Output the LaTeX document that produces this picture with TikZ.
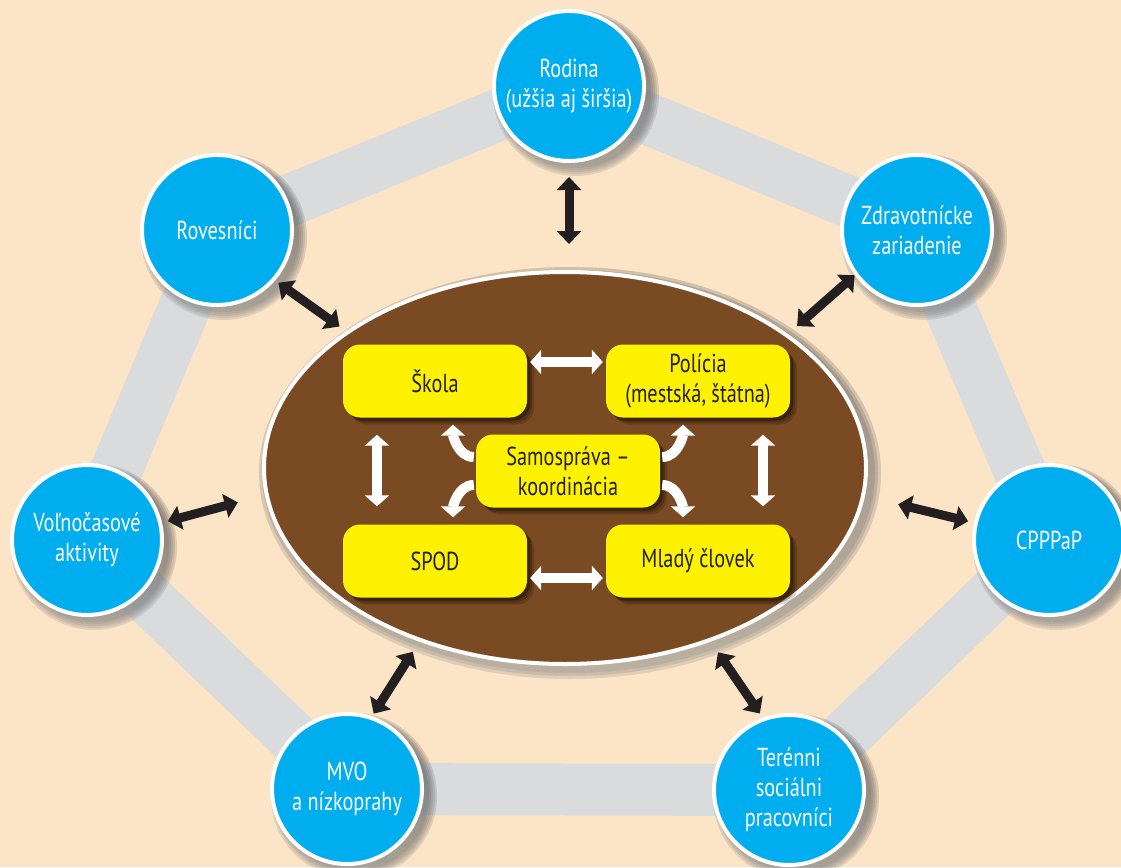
\documentclass[tikz,border=0pt]{standalone}
\usepackage{fontspec}
\setmainfont{PT Sans}[FakeStretch=0.78]
\usetikzlibrary{shapes.geometric,arrows.meta}

\definecolor{paper}{RGB}{252,228,198}
\definecolor{band}{RGB}{218,219,221}
\definecolor{sky}{RGB}{0,174,239}
\definecolor{bark}{RGB}{122,74,34}
\definecolor{lemon}{RGB}{255,242,0}
\definecolor{ink}{RGB}{35,31,32}
\definecolor{shade}{RGB}{60,35,15}

\begin{document}
\begin{tikzpicture}[x=1pt, y=-1pt,
    main/.style = {circle, draw=white, line width=4pt, fill=sky, minimum size=150pt, inner sep=0pt,
      align=center, text=white, font=\fontsize{26}{30}\selectfont},
    box/.style = {rounded corners=17pt, fill=lemon, minimum width=184pt, minimum height=73pt, inner sep=0pt,
      align=center, text=ink, font=\fontsize{26}{30}\selectfont,
      preaction={fill=black, opacity=.15, transform canvas={shift={(7pt,-7pt)}}},
      preaction={fill=black, opacity=.2, transform canvas={shift={(5pt,-5pt)}}},
      preaction={fill=black, opacity=.3, transform canvas={shift={(3pt,-3pt)}}}},
    link/.style = {draw=ink, line width=9pt, {Triangle[width=24pt,length=13pt]}-{Triangle[width=24pt,length=13pt]}},
    wlink/.style = {draw=white, line width=10pt, {Triangle[width=24pt,length=11pt]}-{Triangle[width=24pt,length=11pt]}},
    wturn/.style = {draw=white, line width=10pt, -{Triangle[width=24pt,length=11pt]}}]
  \useasboundingbox (0,0) rectangle (1121,867);
  \fill[paper] (0,0) rectangle (1121,867);

  % where the partners sit
  \foreach \n/\x/\y in {rodina/569/86, zdrav/917/230, cpp/1049/540, ter/789/790,
      mvo/347/789, voln/87/540, rov/217/230}
    \coordinate (p-\n) at (\x,\y);

  \draw[band, line width=52pt, line join=round] (p-rodina) -- (p-zdrav) -- (p-cpp) -- (p-ter)
    -- (p-mvo) -- (p-voln) -- (p-rov) -- cycle;

  % soft shadows
  \foreach \n in {rodina,zdrav,cpp,ter,mvo,voln,rov}
    \foreach \r in {83,81,79,77,75}
      \fill[shade, opacity=.1] ([xshift=7pt,yshift=-7pt]p-\n) circle[radius=\r pt];
  \foreach \e in {8,5,2}
    \fill[shade, opacity=.12] ([xshift=5pt,yshift=-5pt]565,468) ellipse[x radius=303pt+\e pt, y radius=198pt+\e pt];

  % centre
  \node[ellipse, draw=white, line width=4pt, fill=bark, minimum width=602pt, minimum height=392pt,
    inner sep=0pt] (ell) at (565,468) {};

  % partners
  \node[main] (rodina) at (p-rodina) {Rodina\\(užšia aj širšia)};
  \node[main] (zdrav) at (p-zdrav) {Zdravotnícke\\zariadenie};
  \node[main] (cpp) at (p-cpp) {CPPPaP};
  \node[main] (ter) at (p-ter) {Terénni\\sociálni\\pracovníci};
  \node[main] (mvo) at (p-mvo) {MVO\\a nízkoprahy};
  \node[main] (voln) at (p-voln) {Voľnočasové\\aktivity};
  \node[main] (rov) at (p-rov) {Rovesníci};

  % inner boxes
  \node[box] (skola) at (435,381) {Škola};
  \node[box] (policia) at (698,381) {Polícia\\(mestská, štátna)};
  \node[box] (samo) at (568,471) {Samospráva –\\koordinácia};
  \node[box] (spod) at (435,561) {SPOD};
  \node[box] (mlady) at (698,561) {Mladý človek};

  \path
    (rodina.south) edge[link, shorten <=14pt, shorten >=26pt] (rodina.south |- ell.north)
    (rov.-41) edge[link, shorten <=4pt, shorten >=8pt] (ell.148.4)
    (zdrav.216.6) edge[link, shorten >=12pt] (ell.31.2)
    (voln.13.9) edge[link, shorten <=6pt, shorten >=25pt] ([yshift=-28pt]ell.west)
    (cpp.167.5) edge[link, shorten <=6pt, shorten >=31pt] ([yshift=-29pt]ell.east)
    (mvo.71.1) edge[link, shorten <=3pt, shorten >=12pt] (ell.230.7)
    (ter.110.6) edge[link, shorten <=5pt, shorten >=13pt] (ell.-50.2);

  \path
    ([yshift=19pt]skola.east) edge[wlink, shorten <=3pt, shorten >=3pt] ([yshift=19pt]policia.west)
    ([yshift=-17pt]spod.east) edge[wlink, shorten <=3pt, shorten >=3pt] ([yshift=-17pt]mlady.west)
    ([xshift=-58pt]skola.south) edge[wlink, shorten <=17pt, shorten >=18pt] ([xshift=-58pt]spod.north)
    ([xshift=65pt]policia.south) edge[wlink, shorten <=17pt, shorten >=18pt] ([xshift=65pt]mlady.north)
    ([yshift=14pt]samo.west) edge[wturn, out=180, in=-90, shorten <=2pt, shorten >=7pt] ([xshift=18pt]skola.south)
    ([yshift=-14pt]samo.west) edge[wturn, out=180, in=90, shorten <=2pt, shorten >=7pt] ([xshift=18pt]spod.north)
    ([yshift=14pt]samo.east) edge[wturn, out=0, in=-90, shorten <=2pt, shorten >=7pt] ([xshift=-15pt]policia.south)
    ([yshift=-14pt]samo.east) edge[wturn, out=0, in=90, shorten <=2pt, shorten >=7pt] ([xshift=-15pt]mlady.north);
\end{tikzpicture}
\end{document}
